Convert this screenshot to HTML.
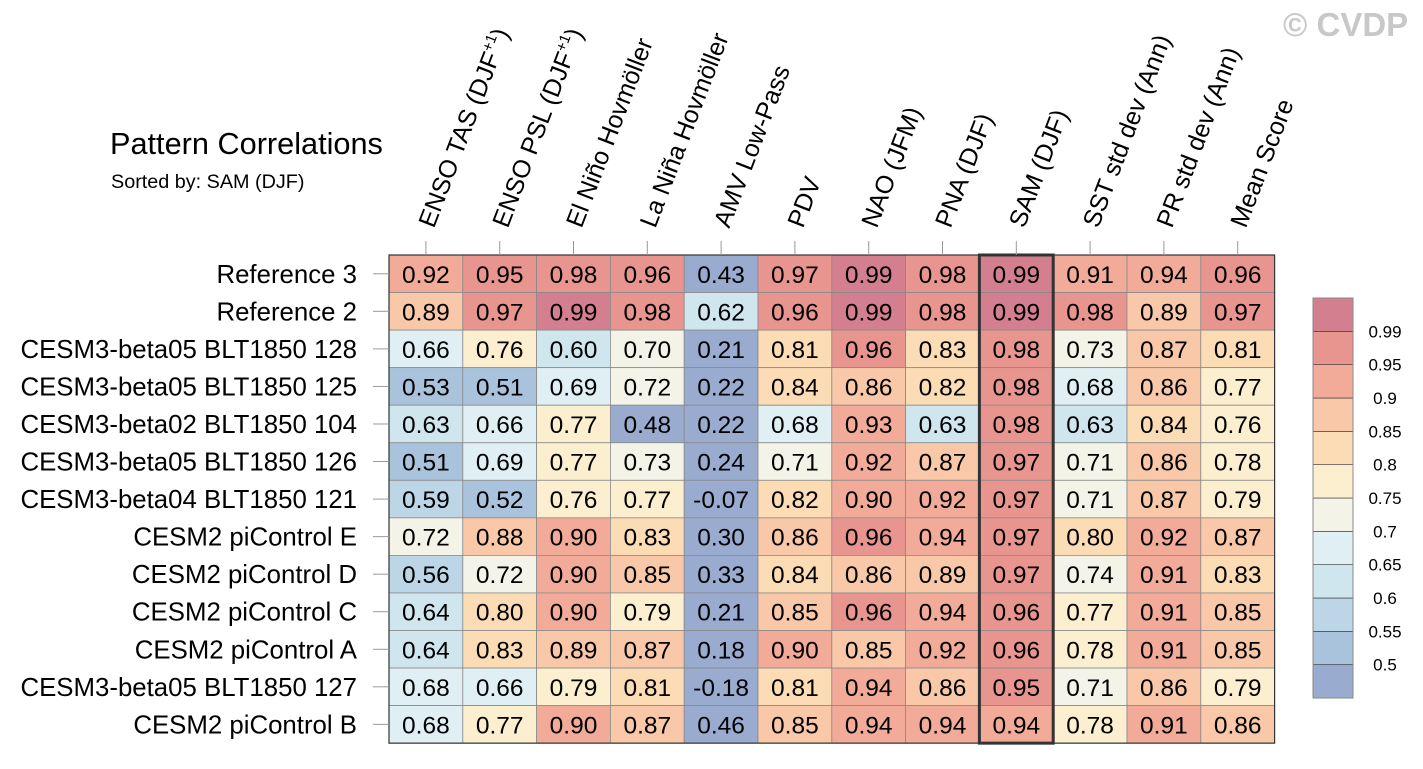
<!DOCTYPE html>
<html><head><meta charset="utf-8">
<style>
body{margin:0;background:#fff;width:1423px;height:764px;overflow:hidden;font-family:"Liberation Sans",sans-serif;}
</style></head>
<body>
<svg id="chart" width="1423" height="764" xmlns="http://www.w3.org/2000/svg" font-family="Liberation Sans, sans-serif">
<text x="110" y="154" font-size="30.7">Pattern Correlations</text>
<text x="111" y="188" font-size="19.8">Sorted by: SAM (DJF)</text>
<text x="1283" y="36" font-size="33" font-weight="bold" fill="#c8c8c8">© CVDP</text>
<g id="cells"></g>
<g id="labels"></g>
<g id="cbar"></g>
</svg>
<script>
const columns=["ENSO TAS (DJF+1)","ENSO PSL (DJF+1)","El Niño Hovmöller","La Niña Hovmöller","AMV Low-Pass","PDV","NAO (JFM)","PNA (DJF)","SAM (DJF)","SST std dev (Ann)","PR std dev (Ann)","Mean Score"];
const rows=["Reference 3","Reference 2","CESM3-beta05 BLT1850 128","CESM3-beta05 BLT1850 125","CESM3-beta02 BLT1850 104","CESM3-beta05 BLT1850 126","CESM3-beta04 BLT1850 121","CESM2 piControl E","CESM2 piControl D","CESM2 piControl C","CESM2 piControl A","CESM3-beta05 BLT1850 127","CESM2 piControl B"];
const values=[
[0.92,0.95,0.98,0.96,0.43,0.97,0.99,0.98,0.99,0.91,0.94,0.96],
[0.89,0.97,0.99,0.98,0.62,0.96,0.99,0.98,0.99,0.98,0.89,0.97],
[0.66,0.76,0.60,0.70,0.21,0.81,0.96,0.83,0.98,0.73,0.87,0.81],
[0.53,0.51,0.69,0.72,0.22,0.84,0.86,0.82,0.98,0.68,0.86,0.77],
[0.63,0.66,0.77,0.48,0.22,0.68,0.93,0.63,0.98,0.63,0.84,0.76],
[0.51,0.69,0.77,0.73,0.24,0.71,0.92,0.87,0.97,0.71,0.86,0.78],
[0.59,0.52,0.76,0.77,-0.07,0.82,0.90,0.92,0.97,0.71,0.87,0.79],
[0.72,0.88,0.90,0.83,0.30,0.86,0.96,0.94,0.97,0.80,0.92,0.87],
[0.56,0.72,0.90,0.85,0.33,0.84,0.86,0.89,0.97,0.74,0.91,0.83],
[0.64,0.80,0.90,0.79,0.21,0.85,0.96,0.94,0.96,0.77,0.91,0.85],
[0.64,0.83,0.89,0.87,0.18,0.90,0.85,0.92,0.96,0.78,0.91,0.85],
[0.68,0.66,0.79,0.81,-0.18,0.81,0.94,0.86,0.95,0.71,0.86,0.79],
[0.68,0.77,0.90,0.87,0.46,0.85,0.94,0.94,0.94,0.78,0.91,0.86]];
const levels=[0.5,0.55,0.6,0.65,0.7,0.75,0.8,0.85,0.9,0.95,0.99];
const levelLabels=["0.5","0.55","0.6","0.65","0.7","0.75","0.8","0.85","0.9","0.95","0.99"];
const colors=["#9aabd0","#a9c3dc","#bcd6e8","#d0e6ef","#e0eff4","#f3f3e8","#fcefcf","#fbdcb5","#f8c8a8","#f2ab98","#e9958f","#d47f8f"];
const sortedCol=8;
const NS="http://www.w3.org/2000/svg";
const X0=389,Y0=255,CW=73.8,RH=37.55;
const xPos=i=>X0+i*CW, yPos=j=>Y0+j*RH;
function colorFor(v){let k=0;while(k<levels.length&&v>=levels[k]-1e-9)k++;return colors[k];}
function mk(tag,attrs,parent){const e=document.createElementNS(NS,tag);for(const a in attrs)e.setAttribute(a,attrs[a]);parent.appendChild(e);return e;}
const cells=document.getElementById('cells'),labels=document.getElementById('labels'),cb=document.getElementById('cbar');
rows.forEach((r,j)=>{
  columns.forEach((c,i)=>{
    const v=values[j][i];
    const rect=mk('rect',{x:xPos(i),y:yPos(j),width:CW,height:RH,fill:colorFor(v),stroke:'#8a8a8a','stroke-width':0.8},cells);
    
    
    const t=mk('text',{x:xPos(i)+CW/2,y:yPos(j)+RH/2+9,'text-anchor':'middle','font-size':24.5},cells);
    t.textContent=v.toFixed(2);
    
    
  });
  const lt=mk('text',{x:357,y:yPos(j)+RH/2+9,'text-anchor':'end','font-size':25.8},labels);
  lt.textContent=r;
  
  
  mk('line',{x1:373,x2:389,y1:yPos(j)+RH/2,y2:yPos(j)+RH/2,stroke:'#999','stroke-width':1},labels);
});
mk('rect',{x:X0,y:Y0,width:CW*columns.length,height:RH*rows.length,fill:'none',stroke:'#333','stroke-width':1.2},cells);
const hl=mk('rect',{x:xPos(sortedCol),y:Y0,width:CW,height:RH*rows.length,fill:'none',stroke:'#333','stroke-width':3},cells);


columns.forEach((c,i)=>{
  const cx=xPos(i)+CW/2;
  mk('line',{x1:cx,x2:cx,y1:241,y2:255,stroke:'#999','stroke-width':1},labels);
  const t=mk('text',{transform:`translate(${cx+8},${229}) rotate(-69)`,'font-size':25},labels);
  
  
  if(c.indexOf('+1')>=0){
    const base=c.replace('+1)','');
    t.appendChild(document.createTextNode(base));
    const s=mk('tspan',{dy:-10,'font-size':15},t);s.textContent='+1';
    const s2=mk('tspan',{dy:10},t);s2.textContent=')';
  } else t.textContent=c;
});
const CBX=1313,CBY=298,CBW=40,CBH=400,n=colors.length,bh=CBH/n;
for(let k=0;k<n;k++){
  const y=CBY+CBH-(k+1)*bh;
  const r=mk('rect',{x:CBX,y:y,width:CBW,height:bh,fill:colors[k],stroke:'#333','stroke-width':0.6},cb);
  
  
}
mk('rect',{x:CBX,y:CBY,width:CBW,height:CBH,fill:'none',stroke:'#888','stroke-width':1},cb);
levelLabels.forEach((l,k)=>{
  const y=CBY+CBH-(k+1)*bh;
  const t=mk('text',{x:1385,y:y+6,'text-anchor':'middle','font-size':17},cb);
  t.textContent=l;
  
  
});
</script>
</body></html>
